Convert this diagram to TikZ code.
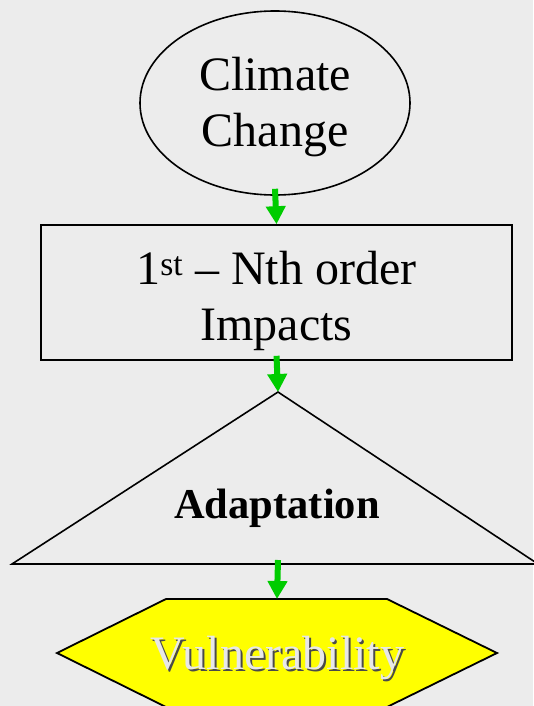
\documentclass[tikz,border=0pt]{standalone}
\usepackage{fontspec}
\setmainfont{Liberation Serif}
\usetikzlibrary{shapes.geometric,arrows.meta}
\definecolor{bgpaper}{HTML}{ECECEC}
\definecolor{flowgreen}{HTML}{00CC00}
\definecolor{hexyellow}{HTML}{FFFF00}
\definecolor{lighttext}{HTML}{E8E8E8}
\definecolor{shadowtext}{HTML}{4A4A4A}
% embossed text: a dark copy offset down-right behind a light copy
\newcommand{\embossed}[1]{%
  \makebox[0pt][l]{\hspace*{2pt}\raisebox{-2pt}{\color{shadowtext}#1}}%
  {\color{lighttext}#1}}
\tikzset{
  outline/.style={draw=black, line width=1.6pt},
  bigtext/.style={font=\fontsize{48}{56}\selectfont, align=center, inner sep=0pt},
  flow/.style={draw=flowgreen, line width=6pt,
    -{Triangle[width=19pt,length=18pt]}, shorten >=0pt}
}
\begin{document}
\begin{tikzpicture}[x=1pt,y=-1pt]
  % page and background
  \useasboundingbox (0,0) rectangle (533,706);
  \fill[bgpaper] (0,0) rectangle (533,706);

  % Climate Change ellipse
  \node[outline, ellipse, minimum width=270pt, minimum height=184pt, inner sep=0pt]
    (cc) at (275,103) {};
  \node[bigtext] (cctext) at (275,107) {Climate\\Change};

  % impacts box
  \node[outline, rectangle, minimum width=471pt, minimum height=135pt, inner sep=0pt]
    (imp) at (276.5,292.5) {};
  \node[bigtext] (imptext) at (276.5,301) {1\textsuperscript{st} -- Nth order\\Impacts};

  % adaptation triangle
  \coordinate (apex) at (278,392);
  \coordinate (bl) at (12,564);
  \coordinate (br) at (538,564);
  \coordinate (basemid) at (278,564);
  \draw[outline, line join=miter] (apex) -- (br) -- (bl) -- cycle;
  \node[font=\fontsize{42.5}{48}\selectfont\bfseries, inner sep=0pt]
    (adapt) at (277,508) {Adaptation};

  % vulnerability hexagon
  \coordinate (vtop) at (277,599);
  \filldraw[fill=hexyellow, draw=black, line width=1.8pt, line join=miter]
    (166,599) -- (387,599) -- (497,653) -- (387,707) -- (166,707) -- (57,653) -- cycle;
  \node[bigtext] (vul) at (277.5,659) {\embossed{Vulnerability}};

  % green connectors
  \draw[flow] ([yshift=7pt]cc.south) -- (imp.north);
  \draw[flow] ([yshift=5pt]imp.south) -- (apex);
  \draw[flow] ([yshift=4pt]basemid) -- (vtop);
\end{tikzpicture}
\end{document}
